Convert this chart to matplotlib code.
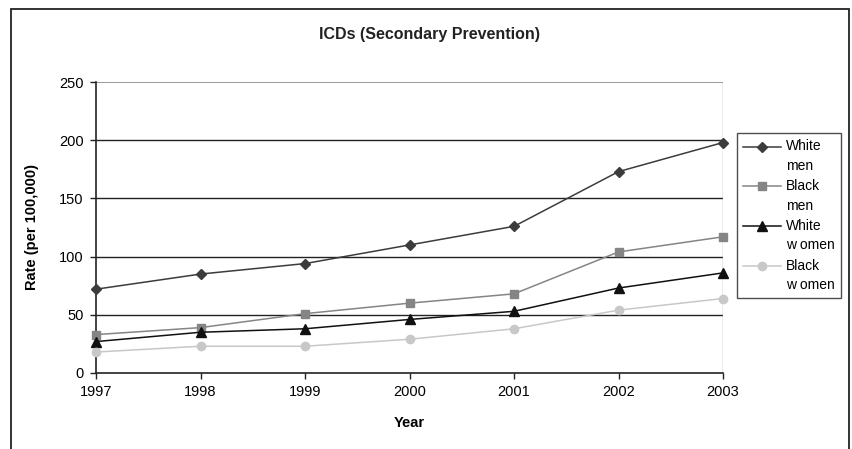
import matplotlib.pyplot as plt
from matplotlib.patches import Rectangle
from matplotlib.legend_handler import HandlerLine2D

plt.rcParams['font.family'] = ['Liberation Sans', 'DejaVu Sans']

# data
years = [1997, 1998, 1999, 2000, 2001, 2002, 2003]
white_men = [72, 85, 94, 110, 126, 173, 198]
black_men = [33, 39, 51, 60, 68, 104, 117]
white_women = [27, 35, 38, 46, 53, 73, 86]
black_women = [18, 23, 23, 29, 38, 54, 64]
labels = ['White\nmen', 'Black\nmen', 'White\nw omen', 'Black\nw omen']
yticks = [0, 50, 100, 150, 200, 250]


# legend handle sits level with the first line of a two-line label
class TopLineHandler(HandlerLine2D):
    def create_artists(self, legend, orig_handle, xdescent, ydescent, width, height, fontsize, trans):
        return super().create_artists(legend, orig_handle, xdescent, ydescent - 1.45*fontsize,
                                      width, height, fontsize, trans)


fig = plt.figure(figsize=(8.52, 4.49), dpi=100)
ax = fig.add_axes([96/852, 1-373/449, (723-96)/852, (373-82)/449])

# outer chart border
fig.patches.append(Rectangle((11/852, -0.1), (849-11)/852, 1.1-9/449,
                             transform=fig.transFigure, fill=False,
                             edgecolor='#222222', linewidth=1.3))

# gridlines
for v in yticks[1:-1]:
    ax.axhline(v, color='#222222', linewidth=1.0, zorder=1)
ax.axhline(250, color='#888888', linewidth=1.2, zorder=1)
ax.axvline(2003, color='#999999', linewidth=1.0, zorder=1)

ax.plot(years, white_men, color='#3c3c3c', marker='D', markersize=5.5, linewidth=1.1, label=labels[0], clip_on=False, zorder=3)
ax.plot(years, black_men, color='#858585', marker='s', markersize=6, linewidth=1.1, label=labels[1], clip_on=False, zorder=3)
ax.plot(years, white_women, color='#111111', marker='^', markersize=7, linewidth=1.1, label=labels[2], clip_on=False, zorder=3)
ax.plot(years, black_women, color='#c8c8c8', marker='o', markersize=6, linewidth=1.1, label=labels[3], clip_on=False, zorder=3)

ax.set_xlim(1997, 2003)
ax.set_ylim(0, 250)
ax.set_xticks(years)
ax.set_yticks(yticks)
ax.tick_params(axis='both', labelsize=10.5, direction='out', length=4, width=1, color='#222222', pad=5)
for s in ['top', 'right']:
    ax.spines[s].set_visible(False)
for s in ['left', 'bottom']:
    ax.spines[s].set_color('#222222')
    ax.spines[s].set_linewidth(1.2)

fig.text(430/852, 1-34/449, 'ICDs (Secondary Prevention)', fontsize=11.5, fontweight='bold',
         ha='center', va='center', color='#222222')
ax.set_xlabel('Year', fontsize=10.5, fontweight='bold', labelpad=12)
ax.set_ylabel('Rate (per 100,000)', fontsize=10.5, fontweight='bold', labelpad=14)

leg = ax.legend(loc='upper left', bbox_to_anchor=(737/852, 1-133/449), bbox_transform=fig.transFigure,
                fontsize=10, frameon=True, fancybox=False, edgecolor='#222222',
                handlelength=2.7, handletextpad=0.35, borderpad=0.45, labelspacing=0.45,
                borderaxespad=0, handler_map={plt.Line2D: TopLineHandler()})
leg.get_frame().set_linewidth(1.0)
for t in leg.get_texts():
    t.set_linespacing(1.5)

fig.savefig('out.png', dpi=100)
